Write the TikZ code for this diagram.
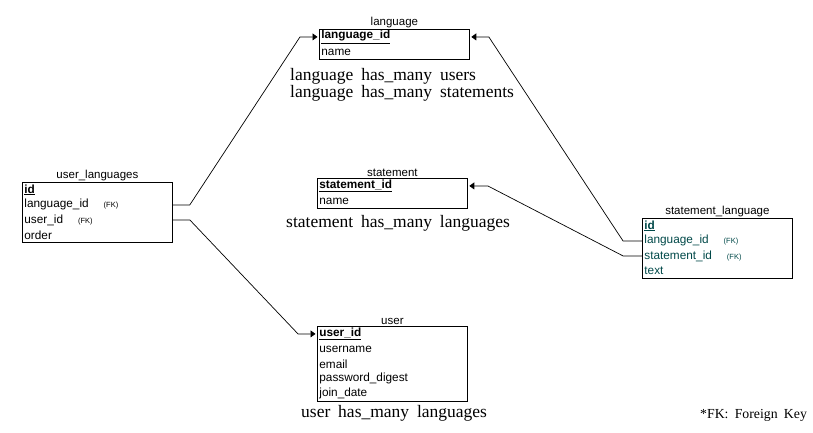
\documentclass[tikz,border=0pt]{standalone}
\usepackage{fontspec}
\setmainfont{Liberation Serif}[WordSpace=1.8]
\setsansfont{Liberation Sans}
\usetikzlibrary{matrix,positioning,arrows.meta}

\definecolor{slteal}{RGB}{0,72,72}
\newcommand{\pkey}[1]{\underline{\textbf{#1}}}
\newcommand{\fk}{\hspace{15pt}{\fontsize{7.5}{8}\selectfont(FK)}}

\tikzset{
  tbl/.style={matrix of nodes, matrix anchor=north west, draw, line width=0.8pt,
              inner sep=0pt, row sep=0pt,
              nodes={text width=146pt, minimum height=15pt, inner xsep=2pt,
                     inner ysep=0pt, align=left, anchor=center,
                     font=\sffamily\fontsize{11.8}{12}\selectfont}},
  ttl/.style={inner sep=1pt, font=\sffamily\fontsize{11.5}{12}\selectfont},
  rel/.style={inner sep=0pt, align=left, anchor=north west,
              font=\fontsize{17.5}{17}\selectfont},
  fkline/.style={line width=0.7pt, -{Triangle[length=5pt,width=7pt]},
                 shorten >=1.5pt}
}

\begin{document}
\begin{tikzpicture}[x=1pt,y=-1pt]
    \useasboundingbox (0,0) rectangle (813,432);

    % tables -----------------------------------------------------------
    \matrix [tbl] (lang) at (319,29)
    {
        \pkey{language\_id} \\
        name                \\
    };
    \matrix [tbl] (ul) at (22,182)
    {
        \pkey{id}          \\
        language\_id\fk    \\
        user\_id\fk        \\
        order              \\
    };
    \matrix [tbl] (st) at (317,178)
    {
        \pkey{statement\_id} \\
        name                 \\
    };
    \matrix [tbl] (usr) at (317,326)
    {
        \pkey{user\_id}  \\
        username         \\
        email            \\
        password\_digest \\
        join\_date       \\
    };
    \matrix [tbl, nodes={text=slteal}] (sl) at (642,218)
    {
        \pkey{id}           \\
        language\_id\fk     \\
        statement\_id\fk    \\
        text                \\
    };

    % titles -----------------------------------------------------------
    \node[ttl, above=0pt of lang] (langt) {language};
    \node[ttl, above=0pt of ul] (ult) {user\_languages};
    \node[ttl, above=0pt of st] (stt) {statement};
    \node[ttl, above=0pt of usr] (usrt) {user};
    \node[ttl, above=0pt of sl] (slt) {statement\_language};

    % relations --------------------------------------------------------
    \node[rel] (langr) at (290,68) {language has\_many users\\language has\_many statements};
    \node[rel] (str) at (286,215) {statement has\_many languages};
    \node[rel] (usrr) at (301,405) {user has\_many languages};
    \node[rel, font=\fontsize{13.8}{13}\selectfont] (note) at (700,409) {*FK: Foreign Key};

    % foreign keys -----------------------------------------------------
    \draw[fkline] (ul-2-1.east) -- ++(17,0) -- ([xshift=-19pt]lang-1-1.west) -- (lang-1-1.west);
    \draw[fkline] (ul-3-1.east) -- ++(17,0) -- ([xshift=-19pt]usr-1-1.west) -- (usr-1-1.west);
    \draw[fkline] (sl-2-1.west) -- ++(-19,0) -- ([xshift=19pt]lang-1-1.east) -- (lang-1-1.east);
    \draw[fkline] (sl-3-1.west) -- ++(-19,0) -- ([xshift=20pt]st-1-1.east) -- (st-1-1.east);
\end{tikzpicture}
\end{document}
